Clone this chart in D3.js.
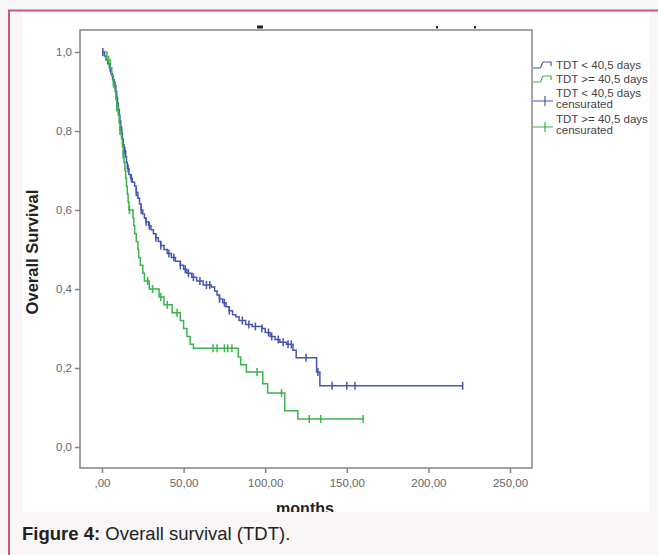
<!DOCTYPE html>
<html><head><meta charset="utf-8">
<script src="https://cdn.jsdelivr.net/npm/d3@7"></script>
<style>
body{margin:0;background:#f8f6f6;}
svg{display:block;font-family:Arial,"Liberation Sans",sans-serif;}
</style>
</head><body><svg id="c" width="658" height="555"></svg>
<script>
// ---- data ----
const yTicks=[0,0.2,0.4,0.6,0.8,1.0];
const yTickLabels=["0,0","0,2","0,4","0,6","0,8","1,0"];
const xTicks=[0,50,100,150,200,250];
const xTickLabels=[",00","50,00","100,00","150,00","200,00","250,00"];
const legendLabels=["TDT < 40,5 days","TDT >= 40,5 days","TDT < 40,5 days","TDT >= 40,5 days"];
const censorSuffix="censurated";
// [time (months), survival after the drop]
const blueSteps=[[0.5,1.0],[1.5,0.99],[2.5,0.98],[3.5,0.97],[4.5,0.96],[5.5,0.945],[6.5,0.93],[7.5,0.915],[8.5,0.9],[9,0.885],[9.5,0.87],[10,0.855],[10.5,0.84],[11,0.825],[11.5,0.81],[12,0.795],[12.5,0.78],[13,0.765],[13.5,0.75],[14.5,0.735],[15,0.72],[15.5,0.705],[16.5,0.69],[17.5,0.68],[18.5,0.67],[20,0.66],[21,0.645],[22,0.63],[23,0.615],[24,0.6],[25,0.59],[26,0.58],[27,0.57],[28.5,0.56],[30,0.55],[31.5,0.54],[33,0.53],[34.5,0.52],[36,0.51],[38,0.5],[40,0.49],[42.5,0.48],[45,0.47],[48,0.46],[50,0.45],[52,0.44],[55,0.43],[58,0.42],[62,0.41],[67,0.405],[69,0.395],[70.5,0.385],[72,0.375],[74,0.365],[76,0.355],[78,0.345],[80,0.335],[82,0.33],[84,0.32],[88,0.31],[92,0.305],[98,0.3],[100,0.29],[103,0.28],[106,0.272],[109,0.265],[113,0.26],[117,0.245],[119,0.226],[131.5,0.19],[133.5,0.155]];
const blueCensored=[0.5,5,8,10,12,14,16,18,21,24,27,29,33,36,41,44,48,51,53,56,60,64,66,72,75,78,86,90,94,98,102,104,108,111,114,116,125,132.3,141,150,155,221];
const blueEnd=221;
const greenSteps=[[2,1.0],[3,0.98],[5,0.96],[6,0.94],[7,0.92],[8,0.9],[8.5,0.88],[9,0.86],[10,0.84],[10.5,0.82],[11,0.8],[12,0.78],[12.5,0.76],[13,0.74],[13.5,0.72],[14,0.7],[14.5,0.68],[15,0.66],[15.5,0.64],[16,0.62],[16.5,0.6],[19,0.58],[19.5,0.56],[20,0.54],[21,0.52],[22,0.5],[22.5,0.48],[23.5,0.46],[25,0.44],[26,0.42],[29,0.4],[35,0.38],[38,0.36],[43,0.34],[48,0.32],[50,0.3],[52,0.28],[54,0.26],[56,0.25],[83.5,0.228],[85,0.208],[88.5,0.19],[98.5,0.16],[101.5,0.137],[112,0.092],[120,0.071]];
const greenCensored=[4,7,9,11,13,16.8,28,31,36,40,46,68,70.5,75,77,79.6,95,110,127,134,160];
const greenEnd=160;

// ---- chart ----
const svg=d3.select("#c");
const blue="#4455b4", green="#3cb44b", axisCol="#858585";
svg.append("rect").attr("x",22).attr("y",13).attr("width",628).attr("height",499).attr("fill","#fff");
svg.append("rect").attr("x",9).attr("y",10.5).attr("width",700).attr("height",600).attr("fill","none").attr("stroke","#c9557a").attr("stroke-width",2);

const x=d3.scaleLinear().domain([0,250]).range([102,510]);
const y=d3.scaleLinear().domain([0,1]).range([447,52]);

// clipped title remnants above the plot frame
svg.append("g").selectAll("rect").data([[257,25.5,6,3],[436,26,2,2.5],[474,26,2,2.5]]).join("rect")
  .attr("x",d=>d[0]).attr("y",d=>d[1]).attr("width",d=>d[2]).attr("height",d=>d[3]).attr("fill","#222");

// frame
svg.append("rect").attr("x",80).attr("y",30).attr("width",452).attr("height",438).attr("fill","none").attr("stroke",axisCol).attr("stroke-width",1.5);

const ya=svg.append("g").attr("transform","translate(80,0)")
  .call(d3.axisLeft(y).tickValues(yTicks).tickFormat((d,i)=>yTickLabels[i]).tickSize(5).tickPadding(3));
const xa=svg.append("g").attr("transform","translate(0,468)")
  .call(d3.axisBottom(x).tickValues(xTicks).tickFormat((d,i)=>xTickLabels[i]).tickSize(5).tickPadding(6));
[ya,xa].forEach(g=>{g.select(".domain").remove();
  g.selectAll(".tick line").attr("stroke",axisCol).attr("stroke-width",1.5);
  g.selectAll(".tick text").attr("fill","#666").attr("font-size","11.5px").attr("font-family","Arial,'Liberation Sans',sans-serif");});

svg.append("text").attr("transform","translate(38,252) rotate(-90)").attr("text-anchor","middle")
  .attr("font-weight","bold").attr("font-size","16.5px").attr("fill","#222").text("Overall Survival");
svg.append("clipPath").attr("id","cb").append("rect").attr("x",0).attr("y",0).attr("width",658).attr("height",512);
svg.append("text").attr("clip-path","url(#cb)").attr("x",305).attr("y",514).attr("text-anchor","middle")
  .attr("font-weight","bold").attr("font-size","16px").attr("fill","#222").text("months");

function survAt(steps,t){let s=1;for(const [ts,v] of steps){if(ts<=t)s=v;else break;}return s;}
function drawCurve(steps,cens,end,col){
  const pts=steps.map(d=>[d[0],d[1]]);pts.push([end,steps[steps.length-1][1]]);
  svg.append("path").attr("d",d3.line().x(d=>x(d[0])).y(d=>y(d[1])).curve(d3.curveStepAfter)(pts))
    .attr("fill","none").attr("stroke",col).attr("stroke-width",1.5);
  svg.append("g").selectAll("line").data(cens).join("line")
    .attr("x1",d=>x(d)).attr("x2",d=>x(d)).attr("y1",d=>y(survAt(steps,d))-4).attr("y2",d=>y(survAt(steps,d))+4)
    .attr("stroke",col).attr("stroke-width",1.5);
}
drawCurve(blueSteps,blueCensored,blueEnd,blue);
drawCurve(greenSteps,greenCensored,greenEnd,green);

// legend
svg.append("clipPath").attr("id","cl").append("rect").attr("x",533).attr("y",0).attr("width",117).attr("height",555);
const lg=svg.append("g").attr("clip-path","url(#cl)");
const legY=[65,79,93,119];   // centre of first text line
const legCols=[blue,green,blue,green];
legendLabels.forEach((lab,i)=>{
  const yy=legY[i];
  if(i<2){
    lg.append("path").attr("d",`M533,${yy+3}H540C542,${yy+3} 541,${yy-3} 544,${yy-3}H551V${yy+1}`)
      .attr("fill","none").attr("stroke",legCols[i]).attr("stroke-width",1.2);
    lg.append("text").attr("x",556).attr("y",yy+4).attr("font-size","11.5px").attr("fill","#444").text(lab);
  } else {
    lg.append("path").attr("d",`M533,${yy+8}H553M545,${yy+3}V${yy+13}`).attr("fill","none").attr("stroke",legCols[i]).attr("stroke-width",1.2);
    lg.append("text").attr("x",556).attr("y",yy+4).attr("font-size","11.5px").attr("fill","#444").text(lab);
    lg.append("text").attr("x",556).attr("y",yy+15).attr("font-size","11.5px").attr("fill","#444").text(censorSuffix);
  }
});

// caption
const cap=svg.append("text").attr("x",22).attr("y",540).attr("font-size","18.5px").attr("fill","#222");
cap.append("tspan").attr("font-weight","bold").text("Figure 4:");
cap.append("tspan").text(" Overall survival (TDT).");
</script></body></html>
